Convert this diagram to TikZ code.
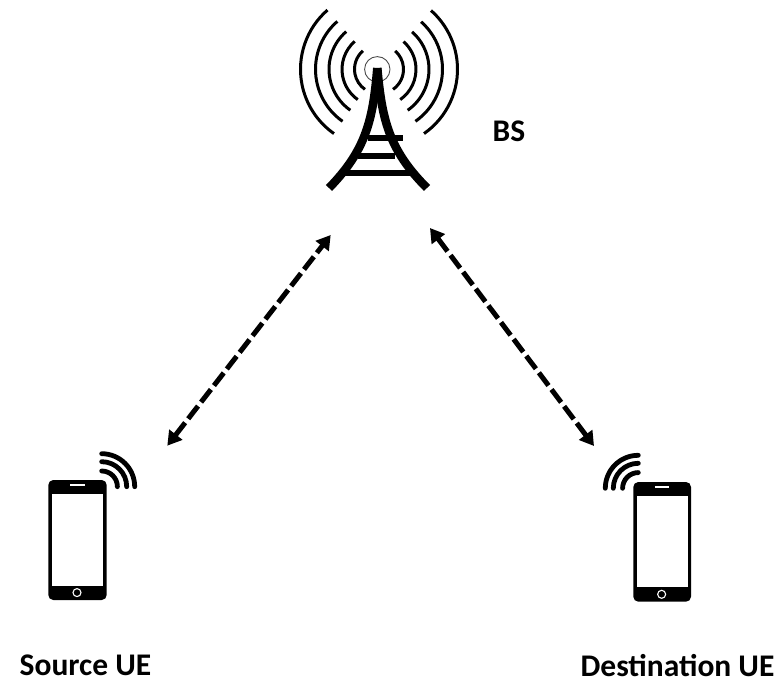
\documentclass[tikz,border=0pt]{standalone}
\usepackage{fontspec}
\setmainfont{Carlito}
\usetikzlibrary{arrows.meta}
\tikzset{
  wave/.style={line width=3pt,black},
  ueWave/.style={line width=4.8pt,black,line cap=round},
  leg/.style={line width=8.5pt,black},
  rung/.style={line width=6pt,black},
  link/.style={line width=5pt,black,dash pattern=on 16pt off 5pt,
    {Triangle[length=14pt,width=16pt]}-{Triangle[length=14pt,width=16pt]}},
  label/.style={font=\bfseries\fontsize{31.5}{34}\selectfont,black,inner sep=0pt}
}
\newcommand{\phoneicon}[6]{% left, right, top, bottom, scrL, scrR
  \fill[black,rounded corners=5pt] (#1,-#3) rectangle (#2,-#4);
  \fill[white] (#5,-#3-14) rectangle (#6,-#4+14.5);
  \draw[white,line width=2pt] ({(#1+#2)/2-7.2},-#3-5.3) -- ({(#1+#2)/2+7.2},-#3-5.3);
  \draw[white,line width=1.1pt] ({(#1+#2)/2-0.5},-#4+7.4) circle[radius=4pt];
}
\begin{document}
\begin{tikzpicture}[x=1pt,y=1pt]
\useasboundingbox (0,0) rectangle (780,-688);
\fill[white] (0,0) rectangle (780,-688);
% tower arcs
\foreach \r in {24.5,37,50,63.5,78.5} {
  \draw[wave] ([shift={(379,-69.3)}]131:\r pt) arc[start angle=131,end angle=235,radius=\r pt];
  \draw[wave] ([shift={(379,-69.3)}]-55:\r pt) arc[start angle=-55,end angle=48.5,radius=\r pt];
}
\draw[black!70,line width=0.9pt] (377.3,-69.3) circle[radius=12.7pt];
% tower legs
\draw[leg] (377.3,-68) .. controls (373,-120) and (366,-150) .. (329,-188);
\draw[leg] (377.3,-68) .. controls (382,-120) and (389,-150) .. (427,-188);
\fill[black] (373.4,-68) rectangle (381.2,-90);
\draw[rung] (368,-138.3) -- (403,-138.3);
\draw[rung] (358,-155.7) -- (395,-155.7);
\draw[rung] (345,-173) -- (410,-173);
% phones
\phoneicon{48.3}{106.7}{480}{600}{52}{102.7}
\phoneicon{633.3}{691}{482}{601.7}{637}{687.7}
\foreach \r in {15.7,25,33} {
  \draw[ueWave] ([shift={(101.7,-486.7)}]90:\r pt) arc[start angle=90,end angle=0,radius=\r pt];
  \draw[ueWave] ([shift={(638.3,-488.3)}]90:\r pt) arc[start angle=90,end angle=180,radius=\r pt];
}
% labels
\node[label] (bs) at (509,-131) {BS};
\node[label] (src) at (85.5,-665) {Source UE};
\node[label] (dst) at (677.5,-666) {Destination UE};
% link ends
\coordinate (bsL) at (330.7,-235);
\coordinate (bsR) at (430,-228);
\coordinate (ueS) at (167.3,-445.7);
\coordinate (ueD) at (594,-446);
\draw[link] (ueS) -- (bsL);
\draw[link] (bsR) -- (ueD);
\end{tikzpicture}
\end{document}
